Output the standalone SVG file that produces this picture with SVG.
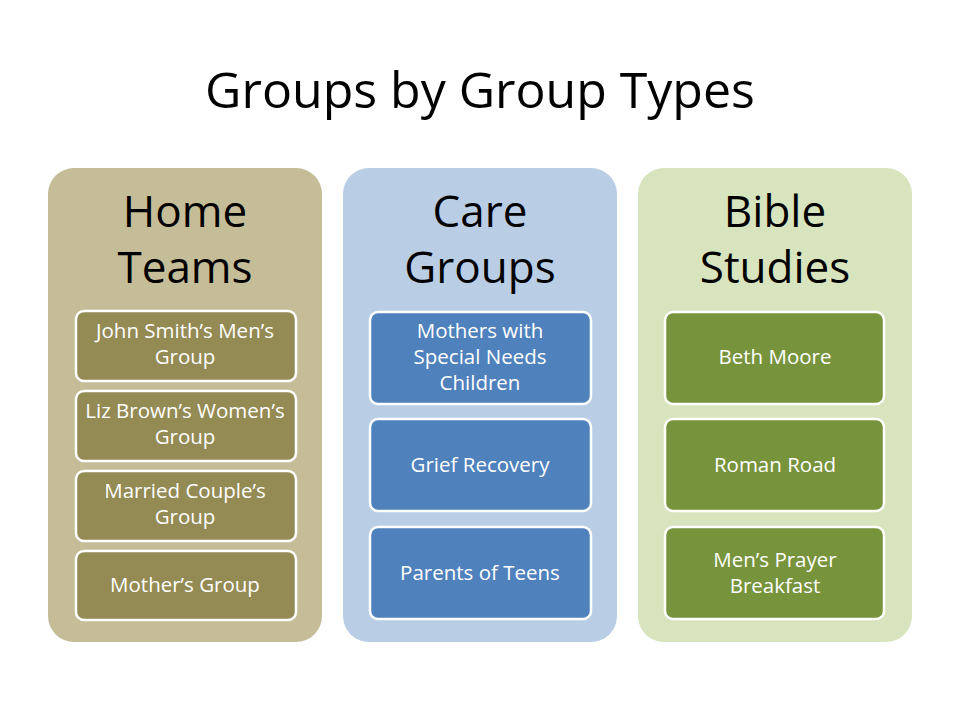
<svg xmlns="http://www.w3.org/2000/svg" width="960" height="720" viewBox="0 0 960 720">
<style>
text{font-family:"Open Sans","Liberation Sans",sans-serif;text-anchor:middle}
.title{font-size:50px;fill:#000}
.head{font-size:44px;fill:#000}
.item{font-size:20.5px;fill:#fff}
.box{stroke:#fff;stroke-width:2.5}
</style>
<rect width="960" height="720" fill="#fff"/>
<text class="title" x="480" y="108">Groups by Group Types</text>
<g id="home">
<rect x="48" y="168" width="274" height="474" rx="26" fill="#C4BD97"/>
<text class="head" x="185" y="227">Home</text>
<text class="head" x="185" y="283">Teams</text>
<g id="home1"><rect class="box" x="76" y="311" width="220" height="70" rx="8" fill="#948A54"/><text class="item" x="185" y="338">John Smith’s Men’s</text><text class="item" x="185" y="364">Group</text></g>
<g id="home2"><rect class="box" x="76" y="391" width="220" height="70" rx="8" fill="#948A54"/><text class="item" x="185" y="418">Liz Brown’s Women’s</text><text class="item" x="185" y="444">Group</text></g>
<g id="home3"><rect class="box" x="76" y="471" width="220" height="70" rx="8" fill="#948A54"/><text class="item" x="185" y="498">Married Couple’s</text><text class="item" x="185" y="524">Group</text></g>
<g id="home4"><rect class="box" x="76" y="551" width="220" height="69" rx="8" fill="#948A54"/><text class="item" x="185" y="592">Mother’s Group</text></g>
</g>
<g id="care">
<rect x="343" y="168" width="274" height="474" rx="26" fill="#B9CDE5"/>
<text class="head" x="480" y="227">Care</text>
<text class="head" x="480" y="283">Groups</text>
<g id="care1"><rect class="box" x="370" y="312" width="221" height="92" rx="8" fill="#4F81BD"/><text class="item" x="480" y="338">Mothers with</text><text class="item" x="480" y="364">Special Needs</text><text class="item" x="480" y="390">Children</text></g>
<g id="care2"><rect class="box" x="370" y="419" width="221" height="92" rx="8" fill="#4F81BD"/><text class="item" x="480" y="472">Grief Recovery</text></g>
<g id="care3"><rect class="box" x="370" y="527" width="221" height="92" rx="8" fill="#4F81BD"/><text class="item" x="480" y="580">Parents of Teens</text></g>
</g>
<g id="bible">
<rect x="638" y="168" width="274" height="474" rx="26" fill="#D7E4BD"/>
<text class="head" x="775" y="227">Bible</text>
<text class="head" x="775" y="283">Studies</text>
<g id="bible1"><rect class="box" x="665" y="312" width="219" height="92" rx="8" fill="#77933C"/><text class="item" x="775" y="364">Beth Moore</text></g>
<g id="bible2"><rect class="box" x="665" y="419" width="219" height="92" rx="8" fill="#77933C"/><text class="item" x="775" y="472">Roman Road</text></g>
<g id="bible3"><rect class="box" x="665" y="527" width="219" height="92" rx="8" fill="#77933C"/><text class="item" x="775" y="567">Men’s Prayer</text><text class="item" x="775" y="593">Breakfast</text></g>
</g>
</svg>
